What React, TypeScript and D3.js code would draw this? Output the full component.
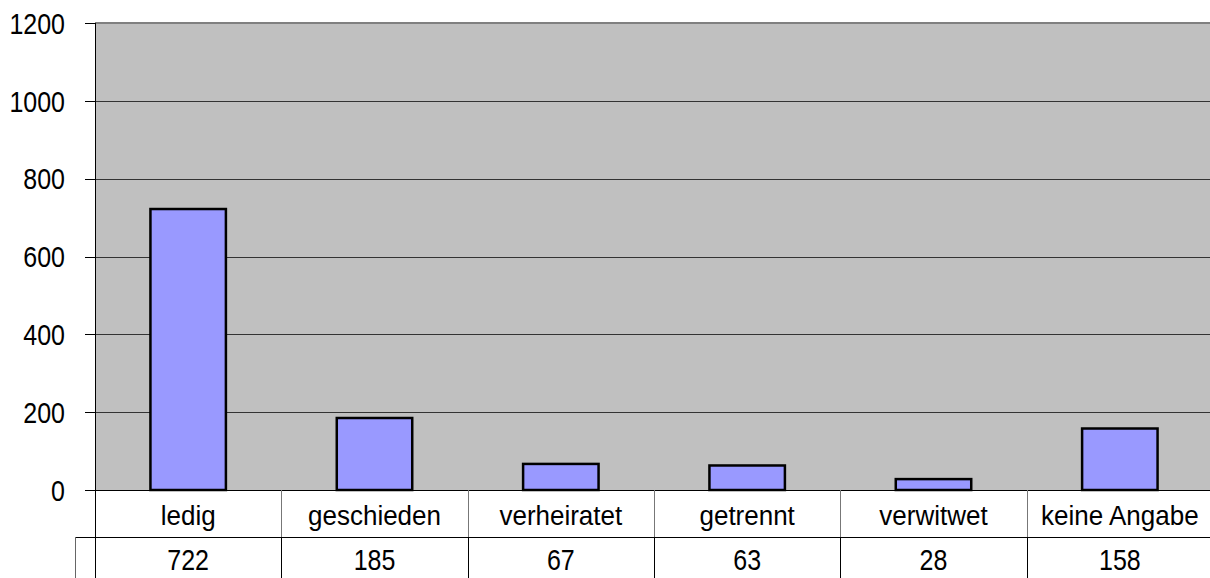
import React, { useEffect, useRef } from 'react';
import * as d3 from 'd3';

const categories = ['ledig', 'geschieden', 'verheiratet', 'getrennt', 'verwitwet', 'keine Angabe'];
const values = [722, 185, 67, 63, 28, 158];
const yTicks = [0, 200, 400, 600, 800, 1000, 1200];

function App() {
    const svgRef = useRef<SVGSVGElement>(null);

    useEffect(() => {
        const width = 1210;
        const height = 578;
        const left = 95;
        const right = 1213;
        const top = 23;
        const bottom = 490;
        const rowH = 47;
        const font = '"Liberation Sans", Arial, sans-serif';

        const svg = d3.select(svgRef.current)
            .attr('width', width)
            .attr('height', height);
        svg.selectAll('*').remove();

        const x = d3.scaleBand<string>()
            .domain(categories)
            .range([left, right])
            .paddingInner(0.595)
            .paddingOuter(0.2975);

        const cell = d3.scaleBand<string>()
            .domain(categories)
            .range([left, right])
            .padding(0);

        const y = d3.scaleLinear()
            .domain([0, 1200])
            .range([bottom, top]);

        // plot background
        svg.append('rect')
            .attr('x', left)
            .attr('y', top)
            .attr('width', right - left)
            .attr('height', bottom - top)
            .attr('fill', '#c0c0c0');

        // gridlines
        svg.selectAll('.grid')
            .data(yTicks.filter(t => t > 0 && t < 1200))
            .enter()
            .append('line')
            .attr('x1', left)
            .attr('x2', right)
            .attr('y1', d => Math.round(y(d)) + 0.5)
            .attr('y2', d => Math.round(y(d)) + 0.5)
            .attr('stroke', '#333')
            .attr('stroke-width', 1);

        // top border
        svg.append('line')
            .attr('x1', left)
            .attr('x2', right)
            .attr('y1', y(1200))
            .attr('y2', y(1200))
            .attr('stroke', '#808080')
            .attr('stroke-width', 2);

        // bars
        svg.selectAll('.bar')
            .data(values)
            .enter()
            .append('rect')
            .attr('x', (d, i) => x(categories[i])!)
            .attr('y', d => y(d))
            .attr('width', x.bandwidth())
            .attr('height', d => bottom - y(d))
            .attr('fill', '#9999ff')
            .attr('stroke', '#000')
            .attr('stroke-width', 2.5);

        // y axis line and ticks
        svg.append('line')
            .attr('x1', left + 0.5).attr('x2', left + 0.5)
            .attr('y1', top).attr('y2', height + 5)
            .attr('stroke', '#000');

        svg.selectAll('.tick')
            .data(yTicks)
            .enter()
            .append('line')
            .attr('x1', left - 10)
            .attr('x2', left)
            .attr('y1', d => Math.round(y(d)) + 0.5)
            .attr('y2', d => Math.round(y(d)) + 0.5)
            .attr('stroke', '#000');

        svg.selectAll('.tickLabel')
            .data(yTicks)
            .enter()
            .append('text')
            .attr('transform', d => `translate(65,${y(d)}) scale(1,1.2)`)
            .attr('dy', '0.36em')
            .attr('text-anchor', 'end')
            .attr('font-family', font)
            .attr('font-size', 25)
            .attr('fill', '#000')
            .text(d => d);

        // x axis line
        svg.append('line')
            .attr('x1', left).attr('x2', right)
            .attr('y1', bottom + 0.5).attr('y2', bottom + 0.5)
            .attr('stroke', '#000');

        // data table
        const rowTop = bottom + rowH;
        svg.append('line')
            .attr('x1', 75).attr('x2', right)
            .attr('y1', rowTop + 0.5).attr('y2', rowTop + 0.5)
            .attr('stroke', '#000');
        svg.append('line')
            .attr('x1', 75.5).attr('x2', 75.5)
            .attr('y1', rowTop).attr('y2', height + 5)
            .attr('stroke', '#666');

        const dividers = categories.slice(1).map(c => cell(c)!);
        svg.selectAll('.divTop')
            .data(dividers)
            .enter()
            .append('line')
            .attr('x1', d => Math.round(d) + 0.5).attr('x2', d => Math.round(d) + 0.5)
            .attr('y1', bottom).attr('y2', rowTop)
            .attr('stroke', '#777');
        svg.selectAll('.divBottom')
            .data(dividers)
            .enter()
            .append('line')
            .attr('x1', d => Math.round(d) + 0.5).attr('x2', d => Math.round(d) + 0.5)
            .attr('y1', rowTop).attr('y2', height + 5)
            .attr('stroke', '#000');

        svg.selectAll('.catLabel')
            .data(categories)
            .enter()
            .append('text')
            .attr('transform', d => `translate(${cell(d)! + cell.bandwidth() / 2},${bottom + rowH / 2 + 1.5}) scale(1,1.05)`)
            .attr('dy', '0.35em')
            .attr('text-anchor', 'middle')
            .attr('font-family', font)
            .attr('font-size', 26)
            .attr('fill', '#000')
            .text(d => d);

        svg.selectAll('.valLabel')
            .data(values)
            .enter()
            .append('text')
            .attr('transform', (d, i) => `translate(${cell(categories[i])! + cell.bandwidth() / 2},559) scale(1,1.2)`)
            .attr('dy', '0.36em')
            .attr('text-anchor', 'middle')
            .attr('font-family', font)
            .attr('font-size', 25)
            .attr('fill', '#000')
            .text(d => d);
    }, []);

    return (
        <svg ref={svgRef} style={{ position: 'absolute', left: 0, top: 0, display: 'block' }}></svg>
    );
}

export default App;
